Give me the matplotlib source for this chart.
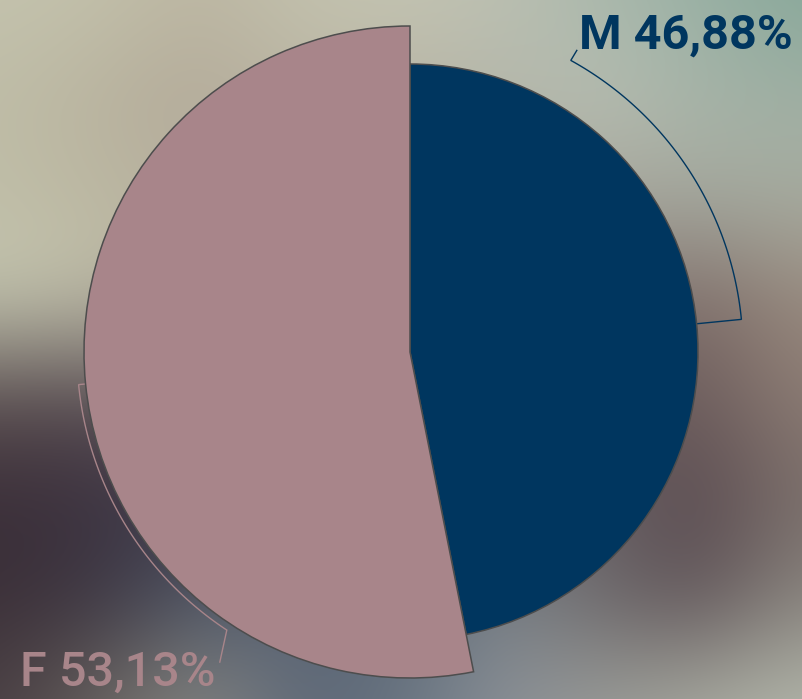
import numpy as np
import matplotlib
matplotlib.use('Agg')
import matplotlib.pyplot as plt
from matplotlib.colors import to_rgb

# data
labels = ['M', 'F']
shares = [46.88, 53.13]
label_text = ['M 46,88%', 'F 53,13%']

# style
slice_colors = ['#00365f', '#a8858a']
slice_radius = [288, 326]
CENTER = (410, 347)
BRACKET_R = 333
bracket_span = [55.5, 51]
tick_end = [(6, 10), (-7, -32)]
label_pos = [(579, 650), (20, 13)]
label_weight = ['bold', 'medium']

# blurred photo behind the chart, coarse colour grid (rows top->bottom, every 100px)
bg_rows = [
    ['#c4c3ae', '#c2c0aa', '#bcb6a2', '#c2c1ad', '#c4c4b2', '#bcc0b2', '#aab8ac', '#98b0a4', '#88a89a'],
    ['#bebca6', '#b8b29e', '#b2a898', '#bab4a2', '#b8b4a4', '#b4b6aa', '#b8beb2', '#a8b4a8', '#a0b0a4'],
    ['#c0bea8', '#bcb8a2', '#b8b2a0', '#b8b2a0', '#b0aca0', '#a8a89e', '#a8a69c', '#a4a89e', '#a8aca0'],
    ['#c4c6b0', '#bebca8', '#b0aa98', '#a8a090', '#a09890', '#9c9088', '#8a7c76', '#7e6c68', '#988a7e'],
    ['#5a4e50', '#564a50', '#6a6268', '#6a6670', '#6a6a72', '#707078', '#6a5c5c', '#6c5c5c', '#8c7c74'],
    ['#3a2e38', '#3c3240', '#3e3c4c', '#4a4e5c', '#505868', '#6a7078', '#686064', '#58484e', '#7a6e6a'],
    ['#3c3038', '#3e3844', '#505868', '#5a6474', '#5a6676', '#7a8288', '#6e6a6c', '#605458', '#8a8680'],
    ['#4a4044', '#6a6460', '#8a8a84', '#5e6878', '#687480', '#8a9098', '#9a9c98', '#a8aaa0', '#b4b8ac'],
]
bg = np.array([[to_rgb(c) for c in row] for row in bg_rows])

fig = plt.figure(figsize=(8.03, 6.99), dpi=100)
ax = fig.add_axes([0, 0, 1, 1])
ax.imshow(bg, extent=(-50, 850, -51, 749), origin='upper', interpolation='bicubic', zorder=0)

wedges, _ = ax.pie(shares, startangle=90, counterclock=False, center=CENTER, radius=max(slice_radius),
                   colors=slice_colors, wedgeprops=dict(edgecolor='#4d4d4d', linewidth=1.1))
for w, r in zip(wedges, slice_radius):
    w.set_radius(r)
    w.set_zorder(2)

# bracket arcs + labels
for i, w in enumerate(wedges):
    mid = (w.theta1 + w.theta2) / 2
    th = np.radians(np.linspace(mid, mid + bracket_span[i], 80))
    xs = CENTER[0] + BRACKET_R * np.cos(th)
    ys = CENTER[1] + BRACKET_R * np.sin(th)
    a0 = np.radians(mid)
    x_in = CENTER[0] + (slice_radius[i] + 1) * np.cos(a0)
    y_in = CENTER[1] + (slice_radius[i] + 1) * np.sin(a0)
    px = np.concatenate([[x_in], xs, [xs[-1] + tick_end[i][0]]])
    py = np.concatenate([[y_in], ys, [ys[-1] + tick_end[i][1]]])
    ax.plot(px, py, color=slice_colors[i], lw=1.0, zorder=1, solid_joinstyle='miter')
    ax.text(label_pos[i][0], label_pos[i][1], label_text[i], color=slice_colors[i],
            fontsize=35, fontfamily='Roboto', fontweight=label_weight[i],
            ha='left', va='baseline', zorder=3)

ax.set_xlim(0, 803)
ax.set_ylim(0, 699)
ax.set_aspect('auto')
ax.axis('off')
fig.savefig('out.png', dpi=100)
